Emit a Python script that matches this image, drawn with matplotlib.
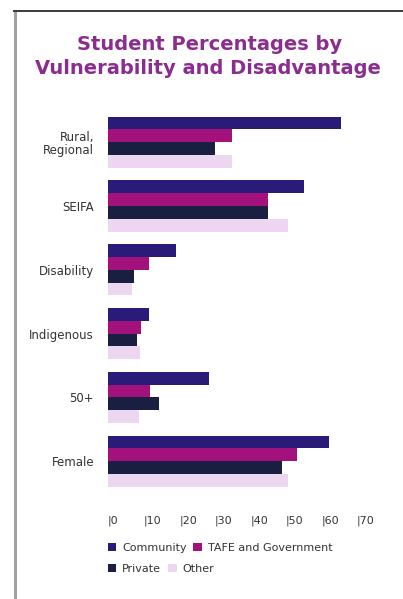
import matplotlib
matplotlib.use("Agg")
import matplotlib.pyplot as plt
from matplotlib.lines import Line2D
from matplotlib.patches import Patch
import numpy as np

categories = ["Rural,\nRegional", "SEIFA", "Disability", "Indigenous", "50+", "Female"]
community = [65.4, 55.0, 19.0, 11.5, 28.4, 62.2]
tafe_gov = [35.0, 45.0, 11.5, 9.3, 11.8, 53.1]
private = [30.0, 45.0, 7.4, 8.2, 14.4, 49.0]
other = [35.0, 50.7, 6.8, 9.0, 8.7, 50.5]
series_names = ["Community", "TAFE and Government", "Private", "Other"]
xticks = [0, 10, 20, 30, 40, 50, 60, 70]

colors = ["#2b1b78", "#a3127c", "#1a1f42", "#ecd6f0"]
series = [community, tafe_gov, private, other]

W, H = 403, 599
fig = plt.figure(figsize=(W / 100, H / 100), dpi=100)
fig.patch.set_facecolor("white")

left_px, right_px = 108, 108 + 75 * 3.557
top_px, bot_px = 110.3, 493.1
ax = fig.add_axes([left_px / W, 1 - bot_px / H, (right_px - left_px) / W, (bot_px - top_px) / H])

y = np.arange(len(categories))
offsets = [-0.3, -0.1, 0.1, 0.3]
for vals, off, c in zip(series, offsets, colors):
    ax.barh(y + off, vals, height=0.2, color=c, edgecolor="none")

ax.set_xlim(0, 75)
ax.set_ylim(5.5, -0.5)
ax.set_yticks(y)
ax.set_yticklabels(categories, fontsize=8.5, color="#333333", linespacing=1.0)
ax.set_xticks(xticks)
ax.set_xticklabels([f"|{t}" for t in xticks], fontsize=8, color="#333333", ha="left")
ax.tick_params(axis="both", length=0)
ax.tick_params(axis="x", pad=16)
ax.tick_params(axis="y", pad=10)
for s in ax.spines.values():
    s.set_visible(False)

fig.text(210 / W, 1 - 44 / H, "Student Percentages by", ha="center", va="center",
         fontsize=14, fontweight="bold", color="#8b2d8e")
fig.text(208 / W, 1 - 68 / H, "Vulnerability and Disadvantage", ha="center", va="center",
         fontsize=14, fontweight="bold", color="#8b2d8e")

h1 = [Patch(facecolor=colors[0]), Patch(facecolor=colors[1])]
h2 = [Patch(facecolor=colors[2]), Patch(facecolor=colors[3])]
leg1 = fig.legend(h1, series_names[:2], loc="center left", bbox_to_anchor=(102 / W, 1 - 548 / H),
                  ncol=2, frameon=False, fontsize=8, handlelength=0.8, handleheight=0.8,
                  handletextpad=0.5, columnspacing=0.6, labelcolor="#333333", borderpad=0)
leg2 = fig.legend(h2, series_names[2:], loc="center left", bbox_to_anchor=(102 / W, 1 - 569 / H),
                  ncol=2, frameon=False, fontsize=8, handlelength=0.8, handleheight=0.8,
                  handletextpad=0.5, columnspacing=0.6, labelcolor="#333333", borderpad=0)

fig.add_artist(Line2D([15 / W, 15 / W], [0, 1 - 11 / H], color="#9ea3a3", linewidth=2.2))
fig.add_artist(Line2D([14 / W, 1], [1 - 11 / H, 1 - 11 / H], color="#3a3a3a", linewidth=1.4))

fig.savefig("out.png", dpi=100, facecolor="white")
